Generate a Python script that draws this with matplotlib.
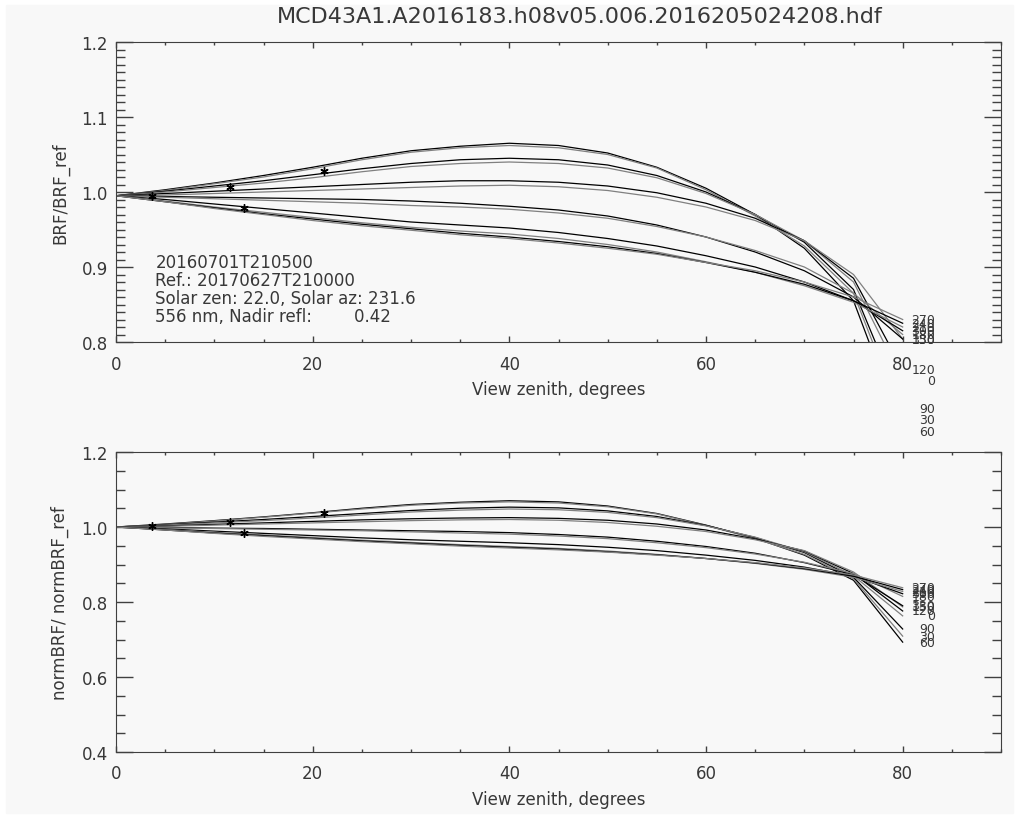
import matplotlib
matplotlib.use("Agg")
import matplotlib.pyplot as plt
from matplotlib.patches import Rectangle
from matplotlib.ticker import MultipleLocator, FormatStrFormatter

# view zenith grid, degrees
vza = [0, 5, 10, 15, 20, 25, 30, 35, 40, 45, 50, 55, 60, 65, 70, 75, 80]

# view azimuths of the curves
azimuths = [60, 30, 90, 0, 120, 150, 330, 180, 300, 210, 240, 270]

# BRF / BRF_ref, one list per azimuth (same order)
brf_ratio = [
    [0.995, 1.003, 1.012, 1.022, 1.033, 1.045, 1.055, 1.061, 1.065, 1.062, 1.052, 1.033, 1.005, 0.970, 0.925, 0.855, 0.681],
    [0.995, 1.002, 1.011, 1.020, 1.031, 1.043, 1.053, 1.059, 1.062, 1.059, 1.050, 1.032, 1.003, 0.968, 0.928, 0.865, 0.697],
    [0.995, 1.001, 1.008, 1.015, 1.023, 1.031, 1.038, 1.043, 1.045, 1.043, 1.036, 1.022, 1.000, 0.970, 0.933, 0.870, 0.712],
    [0.995, 1.000, 1.006, 1.012, 1.019, 1.027, 1.034, 1.038, 1.040, 1.038, 1.032, 1.019, 0.998, 0.970, 0.935, 0.880, 0.749],
    [0.995, 0.998, 1.001, 1.004, 1.007, 1.010, 1.013, 1.015, 1.015, 1.013, 1.008, 0.999, 0.985, 0.965, 0.935, 0.885, 0.763],
    [0.995, 0.996, 0.998, 1.000, 1.002, 1.004, 1.006, 1.008, 1.009, 1.007, 1.002, 0.993, 0.980, 0.962, 0.935, 0.890, 0.804],
    [0.995, 0.994, 0.993, 0.992, 0.991, 0.990, 0.988, 0.985, 0.981, 0.976, 0.968, 0.956, 0.940, 0.920, 0.895, 0.860, 0.804],
    [0.995, 0.993, 0.991, 0.989, 0.987, 0.985, 0.982, 0.980, 0.977, 0.972, 0.965, 0.954, 0.940, 0.922, 0.900, 0.865, 0.810],
    [0.995, 0.990, 0.984, 0.978, 0.972, 0.966, 0.960, 0.956, 0.952, 0.946, 0.938, 0.928, 0.915, 0.900, 0.880, 0.855, 0.815],
    [0.995, 0.988, 0.980, 0.973, 0.966, 0.959, 0.953, 0.948, 0.944, 0.938, 0.930, 0.920, 0.907, 0.893, 0.875, 0.853, 0.820],
    [0.995, 0.987, 0.979, 0.971, 0.964, 0.957, 0.951, 0.945, 0.940, 0.934, 0.927, 0.918, 0.906, 0.893, 0.877, 0.855, 0.825],
    [0.995, 0.987, 0.978, 0.970, 0.962, 0.955, 0.949, 0.943, 0.938, 0.932, 0.925, 0.917, 0.906, 0.895, 0.880, 0.860, 0.830],
]

# normBRF / normBRF_ref
norm_ratio = [
    [1.000, 1.008, 1.017, 1.027, 1.038, 1.050, 1.060, 1.066, 1.070, 1.067, 1.056, 1.036, 1.005, 0.970, 0.925, 0.858, 0.693],
    [1.000, 1.007, 1.016, 1.026, 1.037, 1.048, 1.058, 1.064, 1.067, 1.064, 1.054, 1.035, 1.004, 0.969, 0.927, 0.862, 0.709],
    [1.000, 1.006, 1.013, 1.020, 1.028, 1.036, 1.044, 1.050, 1.053, 1.051, 1.043, 1.028, 1.004, 0.972, 0.932, 0.866, 0.728],
    [1.000, 1.005, 1.011, 1.017, 1.024, 1.032, 1.040, 1.045, 1.048, 1.046, 1.039, 1.025, 1.003, 0.973, 0.934, 0.870, 0.763],
    [1.000, 1.003, 1.007, 1.011, 1.015, 1.019, 1.022, 1.024, 1.025, 1.023, 1.018, 1.008, 0.992, 0.968, 0.936, 0.876, 0.776],
    [1.000, 1.002, 1.005, 1.008, 1.011, 1.014, 1.017, 1.019, 1.020, 1.018, 1.012, 1.002, 0.988, 0.966, 0.937, 0.880, 0.787],
    [1.000, 0.999, 0.997, 0.996, 0.994, 0.992, 0.990, 0.988, 0.985, 0.980, 0.973, 0.962, 0.948, 0.930, 0.905, 0.873, 0.790],
    [1.000, 0.998, 0.996, 0.994, 0.992, 0.990, 0.987, 0.984, 0.981, 0.976, 0.969, 0.958, 0.945, 0.928, 0.906, 0.876, 0.815],
    [1.000, 0.995, 0.989, 0.983, 0.977, 0.971, 0.966, 0.962, 0.958, 0.953, 0.946, 0.937, 0.925, 0.911, 0.893, 0.869, 0.822],
    [1.000, 0.993, 0.986, 0.979, 0.972, 0.965, 0.959, 0.953, 0.948, 0.943, 0.936, 0.927, 0.916, 0.903, 0.887, 0.866, 0.828],
    [1.000, 0.992, 0.984, 0.977, 0.970, 0.963, 0.957, 0.951, 0.946, 0.941, 0.934, 0.926, 0.916, 0.904, 0.889, 0.869, 0.833],
    [1.000, 0.992, 0.983, 0.975, 0.968, 0.961, 0.955, 0.949, 0.944, 0.939, 0.933, 0.925, 0.916, 0.905, 0.891, 0.872, 0.838],
]

# observations (asterisks)
obs_vza = [3.7, 11.6, 13.0, 21.2]
obs_brf = [0.995, 1.007, 0.979, 1.028]
obs_norm = [1.003, 1.013, 0.984, 1.037]

title = "MCD43A1.A2016183.h08v05.006.2016205024208.hdf"
info = ["20160701T210500",
        "Ref.: 20170627T210000",
        "Solar zen: 22.0, Solar az: 231.6",
        "556 nm, Nadir refl:        0.42"]

txt = "#383838"
bg = "#f8f8f8"
plt.rcParams["font.family"] = "DejaVu Sans"
plt.rcParams["font.size"] = 12

W, H = 1019, 820
fig = plt.figure(figsize=(W / 100, H / 100), dpi=100, facecolor="white")
fig.patches.append(Rectangle((6 / W, 6 / H), (W - 12) / W, (H - 12) / H,
                             transform=fig.transFigure, color=bg, zorder=-10))


def make_axes(top_px, ymin, ymax, ymaj, ymin_step):
    ax = fig.add_axes([116 / W, (H - top_px - 300) / H, 885 / W, 300 / H])
    ax.set_facecolor(bg)
    ax.set_xlim(0, 90)
    ax.set_ylim(ymin, ymax)
    ax.xaxis.set_major_locator(MultipleLocator(20))
    ax.xaxis.set_minor_locator(MultipleLocator(5))
    ax.yaxis.set_major_locator(MultipleLocator(ymaj))
    ax.yaxis.set_minor_locator(MultipleLocator(ymin_step))
    ax.yaxis.set_major_formatter(FormatStrFormatter("%.1f"))
    ax.tick_params(which="both", direction="in", top=True, right=True, colors="#404040",
                   labelcolor=txt, labelsize=12, width=1)
    ax.tick_params(axis="x", which="major", length=4.5, pad=9)
    ax.tick_params(axis="x", which="minor", length=2.3)
    ax.tick_params(axis="y", which="major", length=12.5, pad=6)
    ax.tick_params(axis="y", which="minor", length=6.5)
    for s in ax.spines.values():
        s.set_color("#404040")
    ax.set_xlabel("View zenith, degrees", color=txt)
    ax.xaxis.set_label_coords(0.5, -0.127)
    ax.xaxis.label.set_va("top")
    return ax


ax1 = make_axes(43, 0.8, 1.2, 0.1, 0.01)
ax2 = make_axes(453, 0.4, 1.2, 0.2, 0.05)

ax1.set_ylabel("BRF/BRF_ref", color=txt)
ax2.set_ylabel("normBRF/ normBRF_ref", color=txt)
ax1.yaxis.set_label_coords(-0.053, 0.5)
ax2.yaxis.set_label_coords(-0.053, 0.5)

for ax, data, oy in [(ax1, brf_ratio, obs_brf), (ax2, norm_ratio, obs_norm)]:
    for i, (az, vals) in enumerate(zip(azimuths, data)):
        col = "black" if i % 2 == 0 else "#808080"
        ax.plot(vza, vals, color=col, lw=0.9)
        ax.text(83.3, vals[-1], str(az), ha="right", va="center", fontsize=9,
                color=txt, clip_on=False)
    ax.plot(obs_vza, oy, ls="none", marker=(6, 2, 0), ms=6, mew=1, color="black")

for k, line in enumerate(info):
    ax1.text(4, 0.9067 - 0.024 * k, line, ha="left", va="center", color=txt, fontsize=12)

fig.text(580 / W, 1 - 17 / H, title, ha="center", va="center", color=txt, fontsize=16)

fig.savefig("out.png", dpi=100, facecolor=fig.get_facecolor())
